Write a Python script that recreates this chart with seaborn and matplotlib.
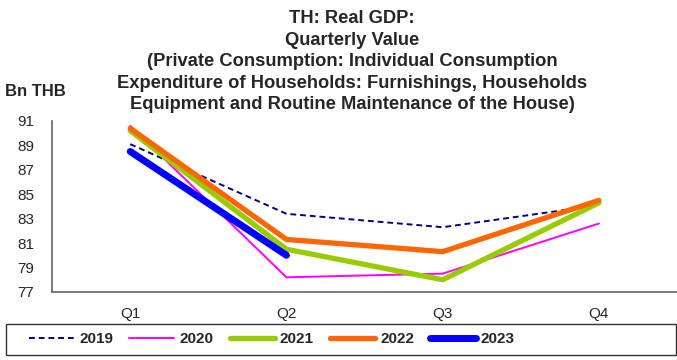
import matplotlib
matplotlib.use("Agg")
import matplotlib.pyplot as plt
from matplotlib.patches import Rectangle
import numpy as np
import pandas as pd
import seaborn as sns

quarters = ["Q1", "Q2", "Q3", "Q4"]
v2019 = [89.1, 83.4, 82.3, 84.1]
v2020 = [90.6, 78.2, 78.5, 82.6]
v2021 = [90.2, 80.5, 78.0, 84.3]
v2022 = [90.4, 81.3, 80.3, 84.5]
v2023 = [88.5, 80.0]

series = {"2019": v2019, "2020": v2020, "2021": v2021, "2022": v2022, "2023": v2023}
styles = {
    "2019": dict(color="#000080", lw=1.4, ls=(0, (3, 2))),
    "2020": dict(color="#FF00FF", lw=1.4, ls="-"),
    "2021": dict(color="#99CC00", lw=3.8, ls="-"),
    "2022": dict(color="#FF6600", lw=3.8, ls="-"),
    "2023": dict(color="#0000FF", lw=5.0, ls="-"),
}

sns.set_style("white")
plt.rcParams["font.family"] = ["Liberation Sans", "DejaVu Sans"]

fig = plt.figure(figsize=(6.77, 3.6), dpi=100)
ax = fig.add_axes([0.077, 0.189, 0.923, 0.475])

for year, vals in series.items():
    df = pd.DataFrame({"x": np.arange(len(vals)), "y": vals})
    st = styles[year]
    sns.lineplot(data=df, x="x", y="y", ax=ax, color=st["color"], linewidth=st["lw"],
                 linestyle=st["ls"], label=year, solid_capstyle="round")

ax.set_xlim(-0.5, 3.5)
ax.set_ylim(77, 91)
ax.set_yticks(np.arange(77, 92, 2))
ax.set_xticks(np.arange(4))
ax.set_xticklabels(quarters)
ax.set_xticks(np.arange(-0.5, 3.6, 1), minor=True)
ax.tick_params(axis="x", which="major", length=0, labelsize=11, pad=11)
ax.tick_params(axis="x", which="minor", length=5, direction="out", color="#666666")
ax.tick_params(axis="y", length=5, direction="out", labelsize=11, pad=8, color="#666666")
ax.set_xlabel("")
ax.set_ylabel("")
for s in ["top", "right"]:
    ax.spines[s].set_visible(False)
for s in ["left", "bottom"]:
    ax.spines[s].set_color("#666666")
    ax.spines[s].set_linewidth(1.2)

fig.text(0.52, 0.971, "TH: Real GDP:\nQuarterly Value\n(Private Consumption: Individual Consumption\n"
         "Expenditure of Households: Furnishings, Households\n"
         "Equipment and Routine Maintenance of the House)",
         ha="center", va="top", fontsize=13.2, fontweight="bold", linespacing=1.34)
fig.text(0.008, 0.747, "Bn THB", ha="left", va="center", fontsize=12, fontweight="bold")

# legend box spanning the width, entries left-aligned inside
fig.add_artist(Rectangle((0.009, 0.015), 0.99, 0.085, transform=fig.transFigure,
                         fill=False, edgecolor="#333333", linewidth=1.0))
ax.get_legend().remove()
handles, labels = ax.get_legend_handles_labels()
fig.legend(handles, labels, loc="center left", bbox_to_anchor=(0.031, 0.058), ncol=5,
           frameon=False, prop={"weight": "bold", "size": 11}, handlelength=2.95,
           handletextpad=0.35, columnspacing=1.05, borderpad=0,
           bbox_transform=fig.transFigure)

fig.savefig("out.png", dpi=100)
